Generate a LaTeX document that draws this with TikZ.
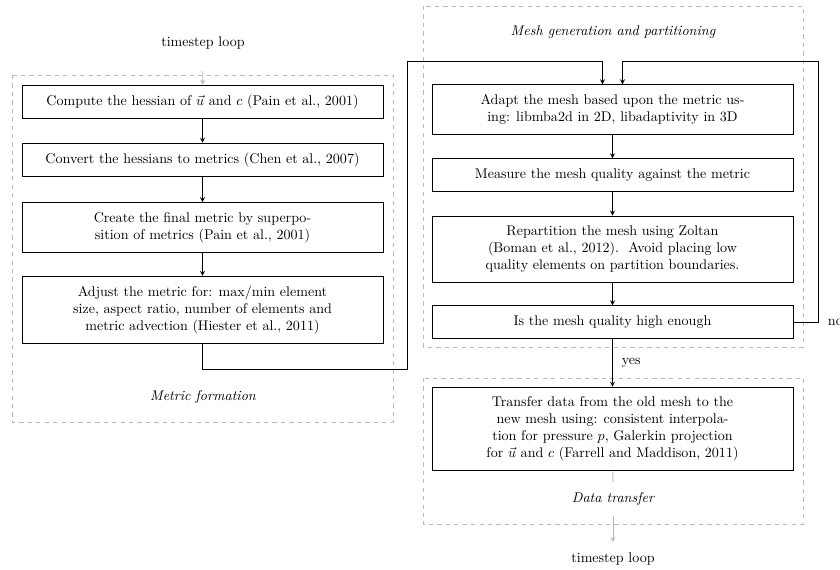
\documentclass[tikz,border=0pt]{standalone}
\usepackage{amsmath}
\usetikzlibrary{calc}

\begin{document}
\begin{tikzpicture}[x=0.025cm,y=-0.025cm,
  stepbox/.style={draw,semithick,minimum width=9.025cm,inner ysep=7pt,align=center},
  flow/.style={semithick,-stealth},
  loopflow/.style={semithick,gray!55,-stealth},
  group/.style={gray!55,dashed},
  caption/.style={font=\itshape,inner ysep=7pt}]

\useasboundingbox (0,0) rectangle (840,570);

% dashed groups
\draw [group] (12,75) rectangle (393,422);
\draw [group] (423,6) rectangle (803,347);
\draw [group] (423,378) rectangle (803,524);

% metric formation
\node (tstop) at (203,43) {timestep loop};
\node[stepbox] (hessian) at (202.5,102) {Compute the hessian of $\vec{u}$ and $c$ (Pain et al., 2001)};
\node[stepbox] (convert) at (202.5,160) {Convert the hessians to metrics (Chen et al., 2007)};
\node[stepbox] (superpose) at (202.5,227.5) {Create the final metric by superpo-\\sition of metrics (Pain et al., 2001)};
\node[stepbox] (adjust) at (202.5,310) {Adjust the metric for: max/min element\\size, aspect ratio, number of elements and\\metric advection (Hiester et al., 2011)};
\node[caption] (metriclbl) at (203,397) {Metric formation};

% mesh generation
\node[caption] (meshlbl) at (613,32) {Mesh generation and partitioning};
\node[stepbox] (adapt) at (612.5,109.5) {Adapt the mesh based upon the metric us-\\ing: libmba2d in 2D, libadaptivity in 3D};
\node[stepbox] (measure) at (612.5,175) {Measure the mesh quality against the metric};
\node[stepbox] (repart) at (612.5,249) {Repartition the mesh using Zoltan\\(Boman et al., 2012).\ \ Avoid placing low\\quality elements on partition boundaries.};
\node[stepbox] (quality) at (612.5,322) {Is the mesh quality high enough};

% data transfer
\node[stepbox] (transfer) at (612.5,429) {Transfer data from the old mesh to the\\new mesh using: consistent interpola-\\tion for pressure $p$, Galerkin projection\\for $\vec{u}$ and $c$ (Farrell and Maddison, 2011)};
\node[caption] (transferlbl) at (613,499) {Data transfer};
\node (tsbot) at (613,559) {timestep loop};

\draw [loopflow,shorten <=12pt] (tstop) -- (hessian);
\draw [flow] (hessian) -- (convert);
\draw [flow] (convert) -- (superpose);
\draw [flow] (superpose) -- (adjust);
\draw [flow] (adjust.south) -- ++(0,25) -| (407,61) -| ($(adapt.north)+(-10,0)$);

\draw [flow] (adapt) -- (measure);
\draw [flow] (measure) -- (repart);
\draw [flow] (repart) -- (quality);
\draw [flow] (quality.east) -| (818,61) -| ($(adapt.north)+(10,0)$);
\node[right] (no) at (823,322) {no};
\draw [flow] (quality) -- node[right=3pt] {yes} (transfer);

\draw [semithick,gray!55] (transfer) -- (transferlbl);
\draw [loopflow,shorten >=4pt] (transferlbl) -- (tsbot);

\end{tikzpicture}
\end{document}
